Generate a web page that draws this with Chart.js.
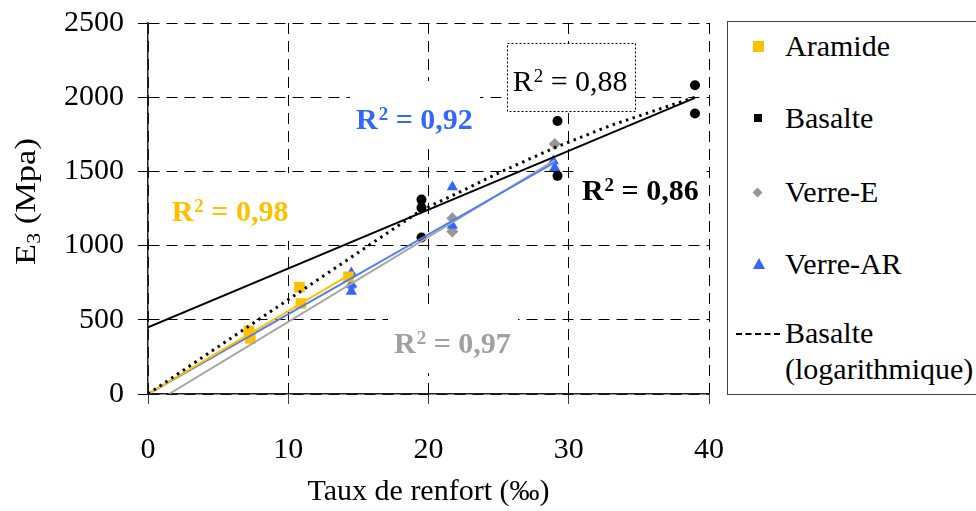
<!DOCTYPE html>
<html>
<head>
<meta charset="utf-8">
<script src="https://cdn.jsdelivr.net/npm/chart.js@4/dist/chart.umd.min.js"></script>
<style>
  html, body { margin: 0; padding: 0; background: #fff; }
  #wrap { position: relative; width: 976px; height: 511px; overflow: hidden; }
  #chart { position: absolute; left: 0; top: 0; }
  #legend {
    position: absolute; left: 727px; top: 21px; width: 270px; height: 374px;
    border: 1px solid #444; box-sizing: border-box; background: #fff;
    font-family: "Liberation Serif", "Times New Roman", serif; font-size: 30px; color: #000;
  }
  .item { position: absolute; left: 57px; line-height: 36px; white-space: nowrap; }
  .mark { position: absolute; }
</style>
</head>
<body>
<div id="wrap">
  <canvas id="chart" width="976" height="511"></canvas>
  <div id="legend"></div>
</div>
<script>
document.addEventListener("DOMContentLoaded", () => {
    // series names and tick labels
    const seriesNames = ["Aramide", "Basalte", "Verre-E", "Verre-AR", "Basalte (logarithmique)"];
    const xTicks = [0, 10, 20, 30, 40];
    const yTicks = [0, 500, 1000, 1500, 2000, 2500];

    // measured points
    const aramideX = [7.2, 7.3, 10.8, 10.9, 14.3];
    const aramideY = [425, 375, 720, 610, 790];
    const basalteX = [19.5, 19.5, 19.5, 29.2, 29.2, 39.0, 39.0];
    const basalteY = [1310, 1255, 1055, 1840, 1470, 2080, 1890];
    const verreEX = [14.5, 21.7, 21.7, 29.0];
    const verreEY = [725, 1185, 1095, 1685];
    const verreARX = [14.5, 14.5, 14.5, 21.7, 21.7, 28.9, 29.0];
    const verreARY = [815, 740, 690, 1395, 1135, 1570, 1525];

    // trend lines
    const aramideTrendX = [0, 14.3];
    const aramideTrendY = [0, 800];
    const basalteTrendX = [0, 39];
    const basalteTrendY = [450, 1995];
    const verreETrendX = [1.5, 29];
    const verreETrendY = [0, 1575];
    const verreARTrendX = [0, 29];
    const verreARTrendY = [0, 1560];
    const basalteLogX = [0, 19.5, 22, 25, 29, 33, 39];
    const basalteLogY = [0, 1240, 1350, 1490, 1660, 1810, 2000];

    // R² values of the trend lines
    const r2Values = ["0,98", "0,92", "0,88", "0,86", "0,97"];

    const YELLOW = "#FFC000";
    const BLUE = "#3366FF";
    const GREY = "#969696";
    const FONT = "\"Liberation Serif\", \"Times New Roman\", serif";

    // where each R² box sits (data coords of the text centre) and how it looks
    const r2Layout = [
        { x: 5.85, y: 1230, color: YELLOW, bold: true },
        { x: 19.0, y: 1851, color: BLUE, bold: true },
        { x: 30.1, y: 2110, color: "#000", bold: false, box: true },
        { x: 35.1, y: 1378, color: "#000", bold: true },
        { x: 21.7, y: 345, color: "#A0A0A0", bold: true }
    ];

    const pts = (xs, ys) => xs.map((x, i) => ({ x: x, y: ys[i] }));

    const trend = (xs, ys, color, extra) => Object.assign({
        data: pts(xs, ys), showLine: true, pointRadius: 0, pointHoverRadius: 0,
        borderColor: color, borderWidth: 2, fill: false, tension: 0
    }, extra || {});

    const marks = (label, xs, ys, color, style, r) => ({
        label: label, data: pts(xs, ys), showLine: false,
        pointStyle: style, pointRadius: r, pointBorderWidth: 0,
        backgroundColor: color, borderColor: color
    });

    const r2Plugin = {
        id: "r2boxes",
        beforeDatasetsDraw(chart) {
            const { ctx, scales: { x, y } } = chart;
            r2Values.forEach((val, i) => {
                const st = r2Layout[i];
                const cx = x.getPixelForValue(st.x);
                const cy = y.getPixelForValue(st.y);
                const w = st.bold ? "bold " : "";
                const big = w + "30px " + FONT;
                const small = w + "19px " + FONT;
                ctx.save();
                ctx.font = big;
                const wR = ctx.measureText("R").width;
                const wRest = ctx.measureText(" = " + val).width;
                ctx.font = small;
                const w2 = ctx.measureText("2").width;
                const total = wR + w2 + 1 + wRest;
                const left = cx - total / 2;
                const bx = Math.round(left - 6), by = Math.round(cy - 38);
                const bw = Math.round(total + 13), bh = 68;
                ctx.fillStyle = "#fff";
                ctx.fillRect(bx, by, bw, bh);
                if (st.box) {
                    ctx.setLineDash([2, 2]);
                    ctx.strokeStyle = "#000";
                    ctx.lineWidth = 1;
                    ctx.strokeRect(bx + 0.5, by + 0.5, bw, bh);
                    ctx.setLineDash([]);
                }
                ctx.fillStyle = st.color;
                ctx.textAlign = "left";
                ctx.textBaseline = "alphabetic";
                const base = cy + 10;
                ctx.font = big;
                ctx.fillText("R", left, base);
                ctx.font = small;
                ctx.fillText("2", left + wR + 1, base - 9);
                ctx.font = big;
                ctx.fillText(" = " + val, left + wR + w2 + 1, base);
                ctx.restore();
            });
        }
    };

    // y title with a real subscript
    const yTitlePlugin = {
        id: "ytitle",
        afterDraw(chart) {
            const { ctx, chartArea } = chart;
            ctx.save();
            ctx.translate(25, (chartArea.top + chartArea.bottom) / 2 - 7);
            ctx.rotate(-Math.PI / 2);
            ctx.scale(1.15, 1);
            ctx.fillStyle = "#000";
            ctx.textBaseline = "alphabetic";
            ctx.textAlign = "left";
            ctx.font = "30px " + FONT;
            const wE = ctx.measureText("E").width;
            const wRest = ctx.measureText(" (Mpa)").width;
            ctx.font = "19px " + FONT;
            const w3 = ctx.measureText("3").width;
            const left = -(wE + w3 + wRest) / 2;
            ctx.font = "30px " + FONT;
            ctx.fillText("E", left, 10);
            ctx.font = "19px " + FONT;
            ctx.fillText("3", left + wE, 15);
            ctx.font = "30px " + FONT;
            ctx.fillText(" (Mpa)", left + wE + w3, 10);
            ctx.restore();
        }
    };

    Chart.defaults.font.family = FONT;
    Chart.defaults.font.size = 30;
    Chart.defaults.color = "#000";

    const ctx = document.getElementById("chart").getContext("2d");
    new Chart(ctx, {
        type: "scatter",
        data: {
            datasets: [
                trend(basalteLogX, basalteLogY, "#000", { borderWidth: 3, borderDash: [2.5, 4.5] }),
                trend(basalteTrendX, basalteTrendY, "#000"),
                trend(aramideTrendX, aramideTrendY, YELLOW),
                trend(verreARTrendX, verreARTrendY, "#4D7CF5"),
                trend(verreETrendX, verreETrendY, "#A6A6A6"),
                marks(seriesNames[1], basalteX, basalteY, "#000", "circle", 5),
                marks(seriesNames[0], aramideX, aramideY, YELLOW, "rect", 7.5),
                marks(seriesNames[3], verreARX, verreARY, BLUE, "triangle", 6.5),
                marks(seriesNames[2], verreEX, verreEY, GREY, "rectRot", 6)
            ]
        },
        options: {
            responsive: false,
            animation: false,
            devicePixelRatio: 1,
            layout: { padding: { top: 23, right: 267, left: 0, bottom: 0 } },
            plugins: { legend: { display: false }, tooltip: { enabled: false } },
            scales: {
                x: {
                    type: "linear", min: 0, max: 40,
                    afterBuildTicks: (s) => { s.ticks = xTicks.map(v => ({ value: v })); },
                    afterFit: (s) => { s.height = 117; s.paddingLeft = 0; s.paddingRight = 0; },
                    ticks: { padding: 28, color: "#000", callback: (v) => String(v) },
                    grid: { color: "#000", lineWidth: 1, tickLength: 10, tickColor: "#000", tickBorderDash: [1, 0] },
                    border: { color: "#222", width: 1.5, dash: [11, 7] },
                    title: { display: true, text: "Taux de renfort (‰)", padding: { top: 0, bottom: 1 }, color: "#000" }
                },
                y: {
                    type: "linear", min: 0, max: 2500,
                    afterBuildTicks: (s) => { s.ticks = yTicks.map(v => ({ value: v })); },
                    afterFit: (s) => { s.width = 148; s.paddingTop = 0; s.paddingBottom = 0; },
                    ticks: { padding: 14, color: "#000", callback: (v) => String(v) },
                    grid: { color: "#000", lineWidth: 1, tickLength: 10, tickColor: "#000", tickBorderDash: [1, 0] },
                    border: { color: "#222", width: 1.5, dash: [11, 7] }
                }
            }
        },
        plugins: [r2Plugin, yTitlePlugin]
    });

    // legend box on the right
    const legendCentres = [24, 96, 170, 242, 311];
    const legendMarks = [
        "left:25px;width:11px;height:11px;margin-top:-5px;background:" + YELLOW,
        "left:26px;width:8px;height:8px;margin-top:-4px;background:#000",
        "left:26px;width:7px;height:7px;margin-top:-3px;background:" + GREY + ";transform:rotate(45deg)",
        "left:25px;width:0;height:0;margin-top:-6px;border-left:6px solid transparent;border-right:6px solid transparent;border-bottom:11px solid " + BLUE,
        "left:8px;width:44px;height:0;margin-top:0;border-top:2px dashed #000"
    ];
    const legend = document.getElementById("legend");
    seriesNames.forEach((name, i) => {
        const m = document.createElement("div");
        m.className = "mark";
        m.style.cssText = legendMarks[i] + ";top:" + legendCentres[i] + "px";
        legend.appendChild(m);
        const t = document.createElement("div");
        t.className = "item";
        t.style.top = (legendCentres[i] - 18) + "px";
        t.innerHTML = name.replace(" (", "<br>(");
        legend.appendChild(t);
    });
});
</script>
</body>
</html>
